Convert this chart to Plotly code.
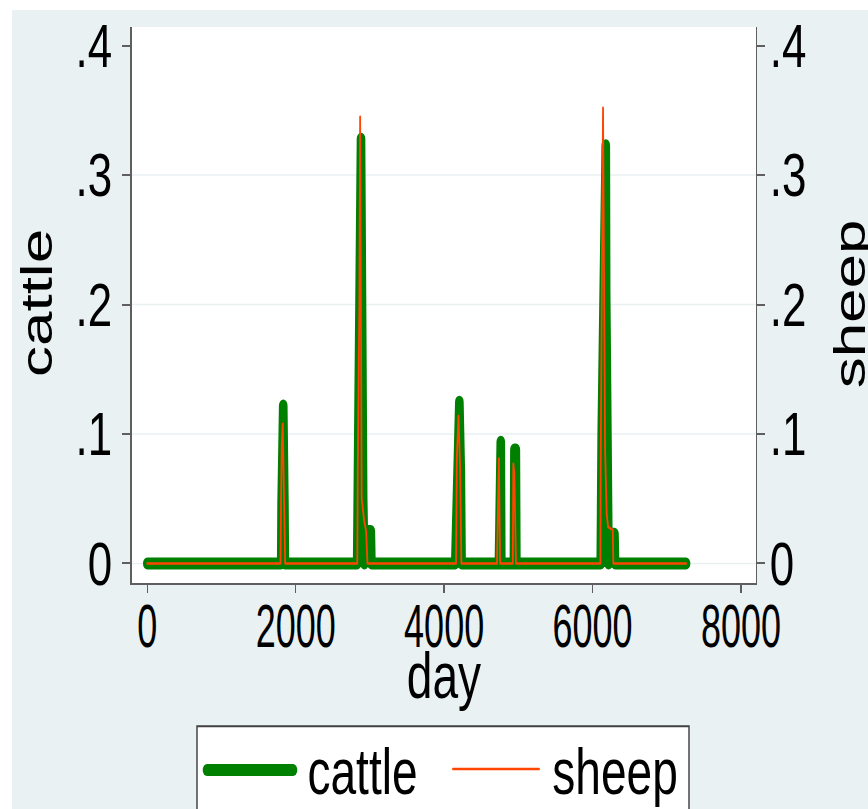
import plotly.graph_objects as go

# ---------------- data ----------------
cattle_day = [0, 1805, 1810, 1825, 1832, 1848, 1854,
              2828, 2836, 2869, 2880, 2909, 2925, 2932, 2950, 3012, 3020,
              4150, 4160, 4175, 4190, 4205, 4225, 4235,
              4738, 4745, 4763, 4770,
              4940, 4947, 4966, 4973,
              6110, 6123, 6150, 6168, 6178, 6183, 6190, 6209, 6215, 6222, 6295, 6303,
              7260]
cattle_val = [0, 0, 0.046, 0.122, 0.122, 0.046, 0,
              0, 0.07, 0.328, 0.328, 0.05, 0, 0.026, 0.025, 0.025, 0,
              0, 0.023, 0.085, 0.125, 0.125, 0.07, 0,
              0, 0.094, 0.094, 0,
              0, 0.088, 0.088, 0,
              0, 0.1, 0.233, 0.323, 0.323, 0.21, 0.085, 0.046, 0, 0.023, 0.023, 0,
              0]

sheep_day = [0, 1795, 1800, 1812, 1825, 1845, 1858,
             2830, 2836, 2858, 2868, 2889, 2922, 2949, 2967,
             4160, 4171, 4193, 4216, 4232,
             4712, 4718, 4732, 4738, 4754,
             4925, 4932, 4945, 4968,
             6105, 6110, 6123, 6141, 6168, 6190, 6210, 6272, 6280,
             7260]
sheep_val = [0, 0, 0.035, 0.092, 0.108, 0.046, 0,
             0, 0.072, 0.2, 0.345, 0.05, 0.033, 0.025, 0,
             0, 0.082, 0.114, 0.072, 0,
             0, 0.02, 0.081, 0.081, 0,
             0, 0.077, 0.07, 0,
             0, 0.082, 0.218, 0.352, 0.089, 0.038, 0.028, 0.026, 0,
             0]

x_ticks = [0, 2000, 4000, 6000, 8000]
x_ticklabels = ["0", "2000", "4000", "6000", "8000"]
y_ticks = [0, 0.1, 0.2, 0.3, 0.4]
y_ticklabels = ["0", ".1", ".2", ".3", ".4"]
grid_vals = [0, 0.1, 0.2, 0.3]

# ---------------- style ----------------
BG = "#E9F1F3"
GREEN = "#008000"
ORANGE = "#FF4500"
AXIS = "#5F5F5F"
TEXT_FONT = "Liberation Sans, Arial, sans-serif"
TICK_FONT = dict(family=TEXT_FONT, size=61, color="black")
SQUISH = 0.72
W, H = 1206, 809
ML, MR, MT, MB = 183, 156, 24, 226
PW = W - ML - MR
PH = H - MT - MB

def px(fx):
    return (fx - ML) / PW

def py(fy):
    return (H - MB - fy) / PH

fig = go.Figure()
fig.add_trace(go.Scatter(x=cattle_day, y=cattle_val, mode="lines", name="cattle",
                         line=dict(color=GREEN, width=12), yaxis="y", showlegend=False))
fig.add_trace(go.Scatter(x=sheep_day, y=sheep_val, mode="lines", name="sheep",
                         line=dict(color=ORANGE, width=2.5), yaxis="y2", showlegend=False))

yr = [-0.0151, 0.4144]
axis_common = dict(showline=True, linecolor=AXIS, linewidth=2, ticks="outside",
                   tickcolor=AXIS, showgrid=False, zeroline=False, tickfont=TICK_FONT)

fig.update_layout(
    width=W, height=H,
    margin=dict(l=ML, r=MR, t=MT, b=MB, pad=0),
    paper_bgcolor=BG, plot_bgcolor="white",
    xaxis=dict(range=[-209, 8202], tickvals=x_ticks, ticktext=x_ticklabels,
               ticklen=8, tickwidth=2, ticklabelstandoff=-19, **axis_common),
    yaxis=dict(range=yr, tickvals=y_ticks, ticktext=y_ticklabels, side="left",
               ticklen=11, tickwidth=1.5, ticklabelstandoff=2, **axis_common),
    yaxis2=dict(range=yr, tickvals=y_ticks, ticktext=y_ticklabels, side="right",
                overlaying="y", ticklen=11, tickwidth=1.5, ticklabelstandoff=-6, **axis_common),
    showlegend=False,
)

shapes = []
# white strips outside the graph region (top and left)
shapes.append(dict(type="rect", xref="paper", yref="paper", x0=px(-5), x1=px(12 / SQUISH),
                   y0=py(H + 20), y1=py(-5), fillcolor="white", line=dict(width=0), layer="below"))
shapes.append(dict(type="rect", xref="paper", yref="paper", x0=px(-5), x1=px(W + 20),
                   y0=py(7), y1=py(-5), fillcolor="white", line=dict(width=0), layer="below"))
for g in grid_vals:
    shapes.append(dict(type="line", xref="paper", yref="y", x0=0, x1=1, y0=g, y1=g,
                       line=dict(color=BG, width=1.5), layer="below"))
# legend box and samples
shapes.append(dict(type="rect", xref="paper", yref="paper",
                   x0=px(197 / SQUISH), x1=px(689 / SQUISH), y0=py(H + 30), y1=py(727),
                   fillcolor="white", line=dict(color="#404040", width=2)))
shapes.append(dict(type="line", xref="paper", yref="paper",
                   x0=px(207 / SQUISH), x1=px(293 / SQUISH), y0=py(771), y1=py(771),
                   line=dict(color=GREEN, width=12)))
shapes.append(dict(type="line", xref="paper", yref="paper",
                   x0=px(453 / SQUISH), x1=px(539 / SQUISH), y0=py(770), y1=py(770),
                   line=dict(color=ORANGE, width=2.5)))
fig.update_layout(shapes=shapes)

ann = []
ann.append(dict(text="day", xref="paper", yref="paper", x=0.5, y=py(676),
                xanchor="center", yanchor="middle", showarrow=False,
                font=dict(family=TEXT_FONT, size=64, color="black")))
ann.append(dict(text="cattle", xref="paper", yref="paper", x=px(36.4 / SQUISH), y=py(302),
                xanchor="center", yanchor="middle", textangle=-90, showarrow=False,
                font=dict(family=TEXT_FONT, size=62, color="black")))
ann.append(dict(text="sheep", xref="paper", yref="paper", x=px(849.5 / SQUISH), y=py(302),
                xanchor="center", yanchor="middle", textangle=-90, showarrow=False,
                font=dict(family=TEXT_FONT, size=62, color="black")))
ann.append(dict(text="cattle", xref="paper", yref="paper", x=px(306 / SQUISH), y=py(773),
                xanchor="left", yanchor="middle", showarrow=False,
                font=dict(family=TEXT_FONT, size=64, color="black")))
ann.append(dict(text="sheep", xref="paper", yref="paper", x=px(551 / SQUISH), y=py(773),
                xanchor="left", yanchor="middle", showarrow=False,
                font=dict(family=TEXT_FONT, size=64, color="black")))
fig.update_layout(annotations=ann)

post = """
var gd = document.getElementById('{plot_id}');
document.documentElement.style.overflow = 'hidden';
document.body.style.margin = '0';
document.body.style.overflow = 'hidden';
gd.querySelectorAll('.scatterlayer path.js-line').forEach(function(p){
  p.style.strokeLinejoin = 'round'; p.style.strokeLinecap = 'round';
});
gd.querySelectorAll('.shapelayer path').forEach(function(p){
  p.style.strokeLinecap = 'round';
});
gd.querySelectorAll('g.xtick text').forEach(function(t){
  var b = t.getBBox();
  var cx = b.x + b.width / 2, cy = b.y + b.height / 2;
  var tr = t.getAttribute('transform') || '';
  t.setAttribute('transform', tr + ' translate(' + cx + ',' + cy + ') scale(0.82,1) translate(' + (-cx) + ',' + (-cy) + ')');
});
gd.style.transformOrigin = '0 0';
gd.style.transform = 'scaleX(SQUISH)';
""".replace("SQUISH", str(SQUISH))

fig.write_html("out.html", post_script=post, config={"displayModeBar": False})
